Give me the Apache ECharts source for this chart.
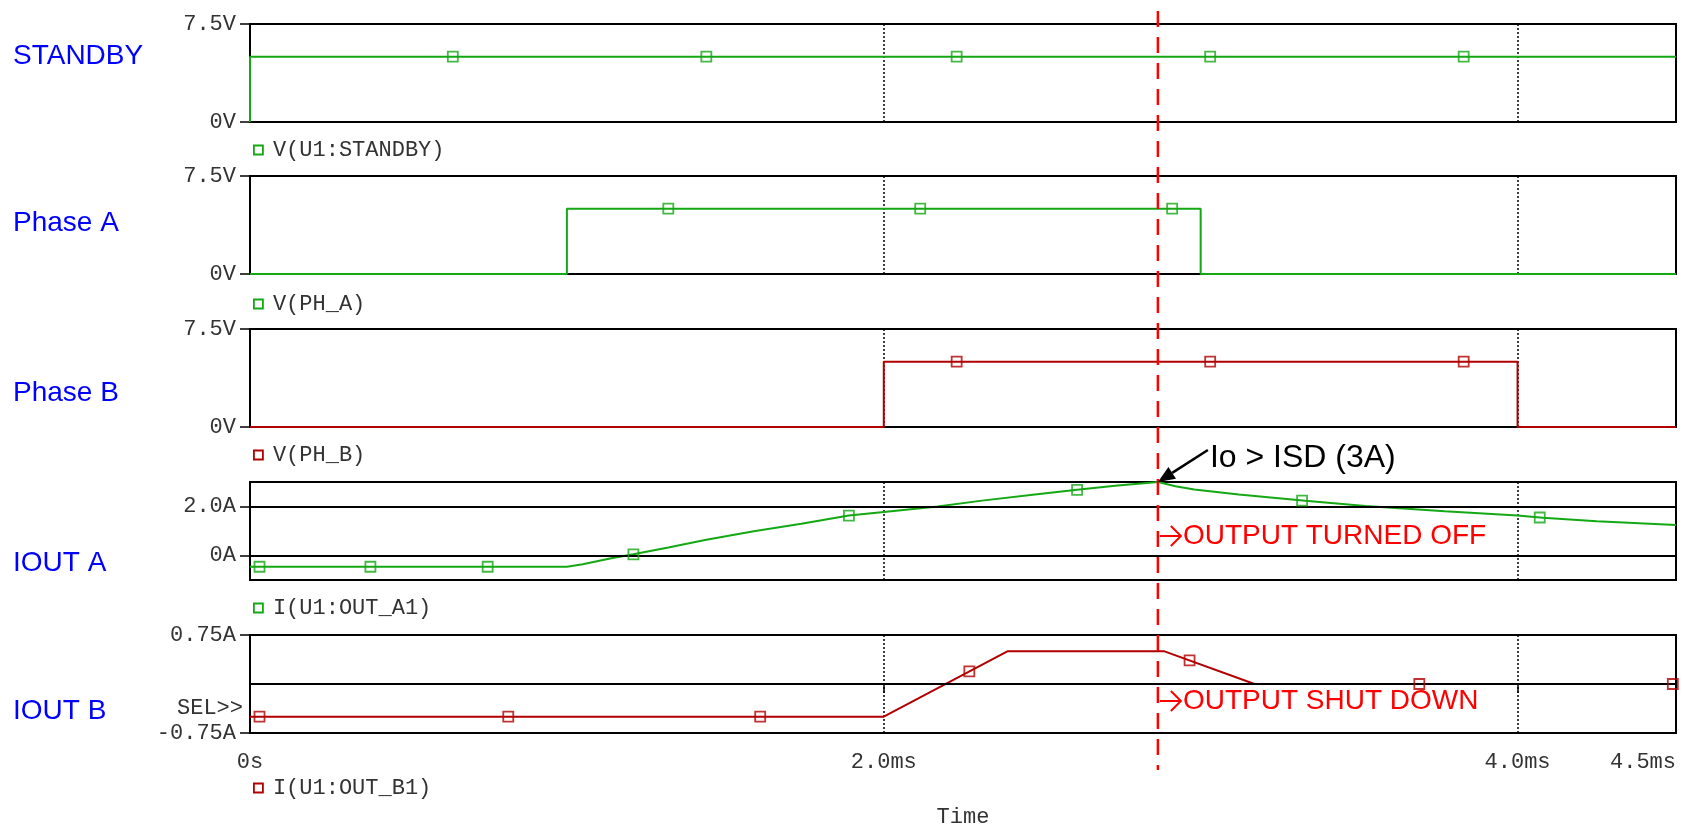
<!DOCTYPE html>
<html>
<head>
<meta charset="utf-8">
<script src="https://cdn.jsdelivr.net/npm/echarts@6/dist/echarts.min.js"></script>
<style>
html, body { margin: 0; padding: 0; background: #fff; }
#main { width: 1685px; height: 824px; }
</style>
</head>
<body>
<div id="main"></div>
<script>
var chart = echarts.init(document.getElementById('main'));

// time in ms
var standbyT = [0, 0, 4.5];
var standbyV = [0, 5, 5];
var phaseAT = [0, 1.0, 1.0, 3.0, 3.0, 4.5];
var phaseAV = [0, 0, 5, 5, 0, 0];
var phaseBT = [0, 2.0, 2.0, 4.0, 4.0, 4.5];
var phaseBV = [0, 0, 5, 5, 0, 0];
var ioutAT = [0, 1.0, 1.05, 1.14, 1.21, 1.32, 1.44, 1.59, 1.74, 1.89, 2.0, 2.17, 2.31, 2.47, 2.61, 2.73, 2.866,
              2.92, 2.98, 3.12, 3.33, 3.52, 3.77, 4.0, 4.08, 4.25, 4.5];
var ioutAV = [-0.46, -0.46, -0.36, -0.11, 0.05, 0.33, 0.64, 0.99, 1.30, 1.63, 1.78, 2.0, 2.24, 2.48, 2.68, 2.85, 3.0,
              2.83, 2.69, 2.49, 2.23, 2.02, 1.81, 1.63, 1.54, 1.40, 1.24];
var ioutBT = [0, 2.0, 2.39, 2.886, 3.17, 4.5];
var ioutBV = [-0.5, -0.5, 0.5, 0.5, 0, 0];

// where the probe markers sit on each trace
var standbyMarks = [0.64, 1.44, 2.23, 3.03, 3.83];
var phaseAMarks = [1.32, 2.115, 2.91];
var phaseBMarks = [2.23, 3.03, 3.83];
var ioutAMarks = [0.03, 0.38, 0.75, 1.21, 1.89, 2.61, 3.32, 4.07];
var ioutBMarks = [0.03, 0.815, 1.61, 2.27, 2.965, 3.69, 4.49];

var panelLabels = ['STANDBY', 'Phase A', 'Phase B', 'IOUT A', 'IOUT B'];
var traceNames = ['V(U1:STANDBY)', 'V(PH_A)', 'V(PH_B)', 'I(U1:OUT_A1)', 'I(U1:OUT_B1)'];
var shutdownTime = 2.865;

var green = '#14a814';
var red = '#b00000';
var mono = '"Liberation Mono", "Courier New", monospace';
var sans = '"Liberation Sans", Arial, sans-serif';
var monoSize = 22;

var signals = [
    {t: standbyT, v: standbyV, marks: standbyMarks, color: green},
    {t: phaseAT, v: phaseAV, marks: phaseAMarks, color: green},
    {t: phaseBT, v: phaseBV, marks: phaseBMarks, color: red},
    {t: ioutAT, v: ioutAV, marks: ioutAMarks, color: green},
    {t: ioutBT, v: ioutBV, marks: ioutBMarks, color: red}
];

var panelTop = [24, 176, 329, 482, 635];
var panelH = 98;
var legendY = [150, 304, 455, 608, 788];
var labelY = [56, 223, 393, 563, 711];

function pairs(t, v) {
    var res = [];
    for (var i = 0; i < t.length; i++) res.push([t[i], v[i]]);
    return res;
}

/* value of a trace at time x, straight lines between points */
function valueAt(t, v, x) {
    for (var i = 0; i < t.length - 1; i++) {
        if (x >= t[i] && x <= t[i + 1] && t[i + 1] > t[i]) {
            return v[i] + (v[i + 1] - v[i]) * (x - t[i]) / (t[i + 1] - t[i]);
        }
    }
    return v[v.length - 1];
}

var grids = [], xAxes = [], yAxes = [], series = [], legends = [];

var yRanges = [
    {min: 0, max: 7.5, interval: 7.5, ticks: [0, 7.5]},
    {min: 0, max: 7.5, interval: 7.5, ticks: [0, 7.5]},
    {min: 0, max: 7.5, interval: 7.5, ticks: [0, 7.5]},
    {min: -1, max: 3, interval: 1, ticks: [0, 2]},
    {min: -0.75, max: 0.75, interval: 0.75, ticks: [-0.75, 0.75]}
];

function yFormat(i) {
    return function (v) {
        if (i < 3) return v === 0 ? '0V' : v.toFixed(1) + 'V';
        if (i === 3) return v === 0 ? '0A' : v.toFixed(1) + 'A';
        return v.toFixed(2) + 'A';
    };
}

for (var i = 0; i < 5; i++) {
    var s = signals[i];
    grids.push({
        left: 250, right: 9, top: panelTop[i], height: panelH,
        show: true, borderColor: '#000', borderWidth: 2,
        outerBoundsMode: 'none'
    });
    var last = i === 4;
    xAxes.push({
        type: 'value', gridIndex: i, min: 0, max: 4.5, interval: 2,
        axisLine: {show: false},
        axisTick: {show: last, length: 9, lineStyle: {color: '#000', width: 1.5}},
        axisLabel: {
            show: last, margin: 18, color: '#333', fontFamily: mono, fontSize: monoSize,
            alignMaxLabel: 'right',
            formatter: function (v) { return v === 0 ? '0s' : v.toFixed(1) + 'ms'; }
        },
        splitLine: {show: true, lineStyle: {color: '#000', width: 1.5, type: [2, 2]}},
        name: last ? 'Time' : '',
        nameLocation: 'middle', nameGap: 73,
        nameTextStyle: {color: '#333', fontFamily: mono, fontSize: monoSize}
    });
    var r = yRanges[i];
    yAxes.push({
        type: 'value', gridIndex: i, min: r.min, max: r.max, interval: r.interval,
        axisLine: {show: false},
        axisTick: {show: true, length: 10, customValues: r.ticks, lineStyle: {color: '#000', width: 1.5}},
        axisLabel: {
            margin: 14, color: '#333', fontFamily: mono, fontSize: monoSize,
            customValues: r.ticks, formatter: yFormat(i)
        },
        splitLine: {show: false}
    });

    var line = {
        name: traceNames[i], type: 'line', xAxisIndex: i, yAxisIndex: i,
        data: pairs(s.t, s.v), showSymbol: false, animation: false,
        lineStyle: {color: s.color, width: 2}, itemStyle: {color: s.color}, z: 4
    };
    if (i === 3 || i === 4) {
        line.markLine = {
            silent: true, symbol: ['none', 'none'], animation: false,
            label: {show: false},
            lineStyle: {color: '#000', width: 2, type: 'solid'},
            data: i === 3 ? [{yAxis: 0}, {yAxis: 2}] : [{yAxis: 0}]
        };
    }
    series.push(line);

    var markPts = s.marks.map(function (m) { return [m, valueAt(s.t, s.v, m)]; });
    series.push({
        name: traceNames[i], type: 'scatter', xAxisIndex: i, yAxisIndex: i,
        data: markPts, symbol: 'rect', symbolSize: 10, animation: false, z: 5,
        itemStyle: {color: 'rgba(0,0,0,0)', borderColor: s.color, borderWidth: 1.8}
    });

    legends.push({
        left: 253, top: legendY[i] - 11, padding: 0,
        itemWidth: 9, itemHeight: 9, selectedMode: false,
        textStyle: {color: '#333', fontFamily: mono, fontSize: monoSize, padding: [0, 0, 0, 5]},
        data: [{
            name: traceNames[i], icon: 'rect',
            itemStyle: {color: 'rgba(0,0,0,0)', borderColor: s.color, borderWidth: 1.8}
        }]
    });
}

chart.setOption({
    backgroundColor: '#fff',
    animation: false,
    grid: grids,
    xAxis: xAxes,
    yAxis: yAxes,
    legend: legends,
    series: series
});

// annotations placed from the shutdown instant on the IOUT A scale
var tip = chart.convertToPixel({gridIndex: 3}, [shutdownTime, 3]);
var sx = tip[0];
var tail = [sx + 50, tip[1] - 32];
var dx = tip[0] - tail[0], dy = tip[1] - tail[1];
var len = Math.sqrt(dx * dx + dy * dy);
var ux = dx / len, uy = dy / len;
var bx = tip[0] - 17 * ux, by = tip[1] - 17 * uy;
var head = [
    [tip[0], tip[1]],
    [bx + 7 * uy, by - 7 * ux],
    [bx - 7 * uy, by + 7 * ux]
];

var graphics = [];
for (var k = 0; k < 5; k++) {
    graphics.push({
        type: 'text', x: 13, y: labelY[k], z: 10,
        style: {text: panelLabels[k], fill: '#0000ff', font: '28px ' + sans, verticalAlign: 'middle'}
    });
}
graphics.push({
    type: 'text', x: 243, y: 708, z: 10,
    style: {text: 'SEL>>', fill: '#333', font: monoSize + 'px ' + mono, align: 'right', verticalAlign: 'middle'}
});
graphics.push({
    type: 'line', z: 20,
    shape: {x1: sx, y1: 11, x2: sx, y2: 770},
    style: {stroke: '#ff0000', lineWidth: 2.5, lineDash: [16, 10]}
});
graphics.push({
    type: 'line', z: 21,
    shape: {x1: tail[0], y1: tail[1], x2: bx, y2: by},
    style: {stroke: '#000', lineWidth: 2.5}
});
graphics.push({
    type: 'polygon', z: 21,
    shape: {points: head},
    style: {fill: '#000'}
});
graphics.push({
    type: 'text', x: sx + 52, y: 458, z: 21,
    style: {text: 'Io > ISD (3A)', fill: '#000', font: '32px ' + sans, verticalAlign: 'middle'}
});

// red notes: hand drawn arrow followed by the text
var notes = [{text: 'OUTPUT TURNED OFF', y: 536}, {text: 'OUTPUT SHUT DOWN', y: 701}];
notes.forEach(function (n) {
    graphics.push({
        type: 'polyline', z: 21,
        shape: {points: [[sx + 2, n.y], [sx + 23, n.y]]},
        style: {stroke: '#ff0000', lineWidth: 2, fill: null}
    });
    graphics.push({
        type: 'polyline', z: 21,
        shape: {points: [[sx + 13, n.y - 10], [sx + 23, n.y], [sx + 13, n.y + 10]]},
        style: {stroke: '#ff0000', lineWidth: 2, fill: null}
    });
    graphics.push({
        type: 'text', x: sx + 25, y: n.y, z: 21,
        style: {text: n.text, fill: '#ff0000', font: '28px ' + sans, verticalAlign: 'middle'}
    });
});

chart.setOption({graphic: graphics});

window.onresize = function () {
    chart.resize();
};
</script>
</body>
</html>
